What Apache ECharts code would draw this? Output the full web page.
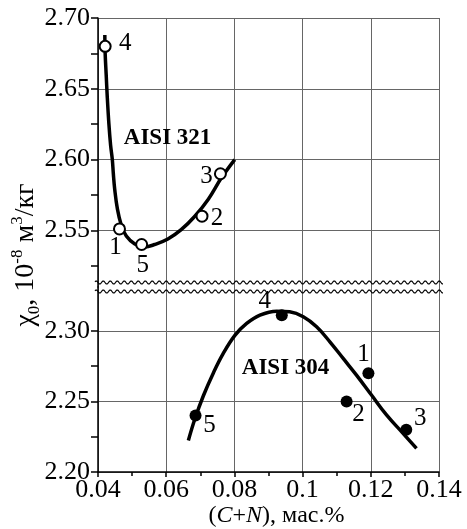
<!DOCTYPE html>
<html><head><meta charset="utf-8">
<script src="https://cdn.jsdelivr.net/npm/echarts@6/dist/echarts.min.js"></script>
<style>html,body{margin:0;padding:0;background:#fff}#c{width:467px;height:529px}</style>
</head><body><div id="c"></div>
<script>
// ---- data ----
const xTicks = [0.04, 0.06, 0.08, 0.1, 0.12, 0.14];
const yTicksTop = [2.55, 2.60, 2.65, 2.70];
const yMinorTop = [2.525, 2.575, 2.625, 2.675];
const yTicksBottom = [2.20, 2.25, 2.30];
const yMinorBottom = [2.225, 2.275];

const ids321 = ['1', '2', '3', '4', '5'];
const x321 = [0.0463, 0.0705, 0.0759, 0.0421, 0.0528];
const y321 = [2.551, 2.560, 2.590, 2.680, 2.540];

const ids304 = ['1', '2', '3', '4', '5'];
const x304 = [0.1193, 0.1129, 0.1304, 0.0939, 0.0686];
const y304 = [2.270, 2.250, 2.230, 2.311, 2.240];

const curve321X = [0.0420, 0.0421, 0.0424, 0.0427, 0.0432, 0.0437, 0.0442, 0.0445, 0.0449, 0.0457, 0.0468, 0.0483, 0.0508, 0.0537, 0.0566, 0.0605, 0.0644, 0.0684, 0.0723, 0.0762, 0.0801];
const curve321Y = [2.688, 2.675, 2.660, 2.645, 2.625, 2.610, 2.600, 2.590, 2.579, 2.565, 2.554, 2.546, 2.5404, 2.5383, 2.540, 2.5439, 2.5505, 2.560, 2.5718, 2.5871, 2.600];

const curve304X = [0.0665, 0.0684, 0.0709, 0.0738, 0.0767, 0.0802, 0.0836, 0.0875, 0.0924, 0.0962, 0.1002, 0.1041, 0.1080, 0.1119, 0.1158, 0.1202, 0.1246, 0.1290, 0.1334];
const curve304Y = [2.2223, 2.2375, 2.2540, 2.2700, 2.2838, 2.2969, 2.3052, 2.3111, 2.3139, 2.3134, 2.3099, 2.3028, 2.2922, 2.2804, 2.2686, 2.2545, 2.2404, 2.2286, 2.2167];

// ---- styling (label placement, annotation anchors) ----
const lblOff321 = [[-4, 18], [15, 2], [-14, 3], [20, -3], [1, 21]];
const lblOff304 = [[-5, -19], [12, 13], [14, -11], [-17, -14], [14, 10]];
const FONT = 'Liberation Serif';

const topRange = [2.51, 2.70];
const botRange = [2.20, 2.331];

const chart = echarts.init(document.getElementById('c'), null, {renderer: 'canvas'});

const gridLine = {show: true, lineStyle: {color: '#666', width: 1}};
const axisLineBlack = {show: true, onZero: false, lineStyle: {color: '#000', width: 1.5}};

function zip(xs, ys) { return xs.map((x, i) => [x, ys[i]]); }

const option = {
  backgroundColor: '#fff',
  animation: false,
  textStyle: {fontFamily: FONT},
  grid: [
    {left: 98, right: 28, top: 18, height: 269, outerBoundsMode: 'none', containLabel: false},
    {left: 98, right: 28, top: 287, height: 185, outerBoundsMode: 'none', containLabel: false}
  ],
  xAxis: [
    {gridIndex: 0, type: 'value', min: 0.04, max: 0.14, interval: 0.02,
     axisLine: {show: false}, axisTick: {show: false}, axisLabel: {show: false}, splitLine: gridLine},
    {gridIndex: 1, type: 'value', min: 0.04, max: 0.14, interval: 0.02,
     axisLine: axisLineBlack,
     axisTick: {show: true, length: 5, lineStyle: {color: '#000', width: 1.5}},
     minorTick: {show: true, splitNumber: 2, length: 4, lineStyle: {color: '#000', width: 1.5}},
     axisLabel: {fontSize: 26, color: '#000', margin: 5, fontFamily: FONT, customValues: xTicks,
                 formatter: v => String(+v.toFixed(2))},
     splitLine: gridLine,
     name: '({i|C}+{i|N}), мас.%', nameLocation: 'middle', nameGap: 31,
     nameTextStyle: {fontSize: 24, color: '#000', fontFamily: FONT, padding: [0, 0, 0, 16],
                     rich: {i: {fontStyle: 'italic', fontSize: 24, fontFamily: FONT, color: '#000'}}}}
  ],
  yAxis: [
    {gridIndex: 0, type: 'value', position: 'left', min: topRange[0], max: topRange[1],
     axisLine: axisLineBlack,
     axisTick: {show: true, length: 7, customValues: yTicksTop, lineStyle: {color: '#000', width: 1.5}},
     axisLabel: {fontSize: 26, color: '#000', margin: 8, fontFamily: FONT, customValues: yTicksTop,
                 formatter: v => v.toFixed(2)},
     splitLine: gridLine},
    {gridIndex: 0, type: 'value', position: 'left', offset: 0, min: topRange[0], max: topRange[1],
     axisLine: {show: false},
     axisTick: {show: true, length: 7, customValues: yMinorTop, lineStyle: {color: '#000', width: 1.5}},
     axisLabel: {show: false}, splitLine: {show: false}},
    {gridIndex: 1, type: 'value', position: 'left', min: botRange[0], max: botRange[1],
     axisLine: axisLineBlack,
     axisTick: {show: true, length: 7, customValues: yTicksBottom, lineStyle: {color: '#000', width: 1.5}},
     axisLabel: {fontSize: 26, color: '#000', margin: 8, fontFamily: FONT, customValues: yTicksBottom,
                 formatter: v => v.toFixed(2)},
     splitLine: gridLine},
    {gridIndex: 1, type: 'value', position: 'left', offset: 0, min: botRange[0], max: botRange[1],
     axisLine: {show: false},
     axisTick: {show: true, length: 7, customValues: yMinorBottom, lineStyle: {color: '#000', width: 1.5}},
     axisLabel: {show: false}, splitLine: {show: false}}
  ],
  series: [
    {type: 'line', xAxisIndex: 0, yAxisIndex: 0, data: zip(curve321X, curve321Y),
     smooth: 0.4, symbol: 'none', silent: true, lineStyle: {color: '#000', width: 3.5, opacity: 1}, z: 2},
    {type: 'scatter', xAxisIndex: 0, yAxisIndex: 0,
     data: x321.map((x, i) => ({value: [x, y321[i]], label: {offset: lblOff321[i]}})),
     symbol: 'circle', symbolSize: 11,
     itemStyle: {color: '#fff', borderColor: '#000', borderWidth: 2, opacity: 1},
     label: {show: true, position: 'inside', formatter: p => ids321[p.dataIndex],
             fontSize: 25, color: '#000', fontFamily: FONT},
     z: 3},
    {type: 'line', xAxisIndex: 1, yAxisIndex: 2, data: zip(curve304X, curve304Y),
     smooth: 0.4, symbol: 'none', silent: true, lineStyle: {color: '#000', width: 3.5, opacity: 1}, z: 2},
    {type: 'scatter', xAxisIndex: 1, yAxisIndex: 2,
     data: x304.map((x, i) => ({value: [x, y304[i]], label: {offset: lblOff304[i]}})),
     symbol: 'circle', symbolSize: 12,
     itemStyle: {color: '#000', opacity: 1},
     label: {show: true, position: 'inside', formatter: p => ids304[p.dataIndex],
             fontSize: 25, color: '#000', fontFamily: FONT},
     z: 3}
  ]
};
chart.setOption(option);

// decorations: axis break waves, annotations, y-axis title
const pL = chart.convertToPixel({gridIndex: 1}, [0.04, botRange[1]]);
const pR = chart.convertToPixel({gridIndex: 1}, [0.14, botRange[1]]);
function wave(y0) {
  const pts = [];
  for (let x = pL[0] - 3; x <= pR[0] + 4; x += 0.5) {
    pts.push([x, y0 + 1.5 * Math.sin(2 * Math.PI * (x - pL[0]) / 7)]);
  }
  return pts;
}
const a321 = chart.convertToPixel({gridIndex: 0}, [0.0604, 2.6151]);
const a304 = chart.convertToPixel({gridIndex: 1}, [0.0950, 2.2738]);

chart.setOption({
  graphic: [
    {type: 'polyline', shape: {points: wave(pL[1] - 4.5)}, style: {stroke: '#000', lineWidth: 1.2, fill: null}, z: 100, silent: true},
    {type: 'polyline', shape: {points: wave(pL[1] + 4.5)}, style: {stroke: '#000', lineWidth: 1.2, fill: null}, z: 100, silent: true},
    {type: 'text', x: a321[0], y: a321[1], z: 100, silent: true,
     style: {text: 'AISI 321', fontFamily: FONT, fontWeight: 'bold', fontSize: 23, fill: '#000',
             textAlign: 'center', textVerticalAlign: 'middle'}},
    {type: 'text', x: a304[0], y: a304[1], z: 100, silent: true,
     style: {text: 'AISI 304', fontFamily: FONT, fontWeight: 'bold', fontSize: 23, fill: '#000',
             textAlign: 'center', textVerticalAlign: 'middle'}},
    {type: 'text', x: 26, y: 255, rotation: Math.PI / 2, z: 100, silent: true,
     style: {text: '{m|χ}{sb|0}{m|, 10}{sp|-8}{m| м}{sp|3}{m|/кг}',
             textAlign: 'center', textVerticalAlign: 'middle', fill: '#000',
             rich: {
               m: {fontFamily: FONT, fontSize: 28, lineHeight: 34, fill: '#000', color: '#000'},
               sb: {fontFamily: FONT, fontSize: 17, lineHeight: 17, verticalAlign: 'bottom', fill: '#000', color: '#000'},
               sp: {fontFamily: FONT, fontSize: 17, lineHeight: 17, verticalAlign: 'top', fill: '#000', color: '#000'}
             }}}
  ]
});
</script>
</body></html>
